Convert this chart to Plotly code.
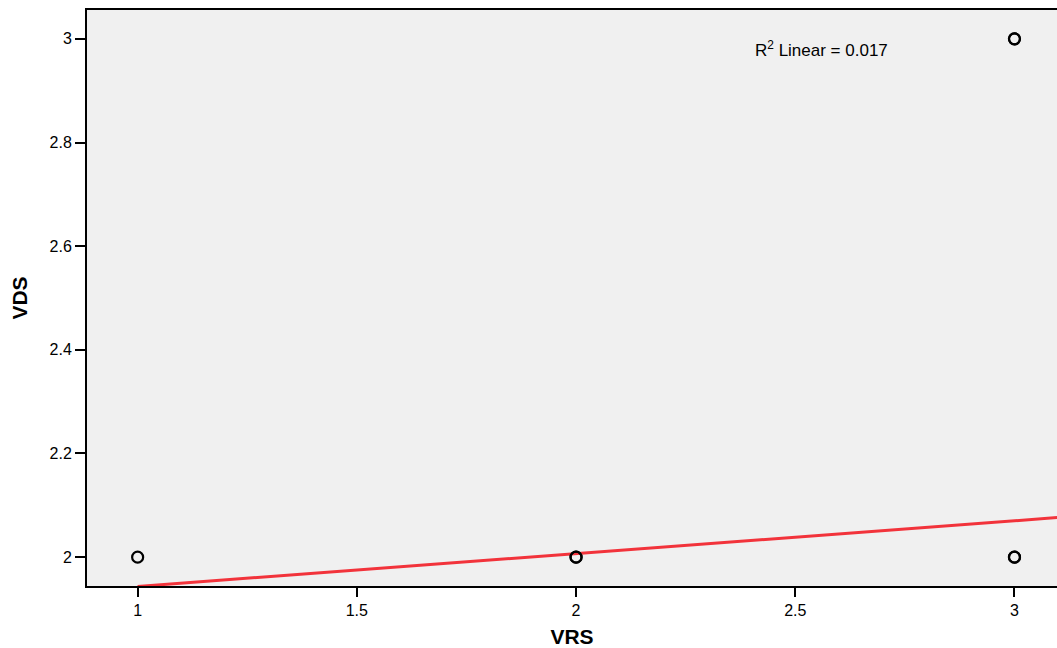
import plotly.graph_objects as go

# Data
vrs = [1, 2, 2, 3, 3, 3, 3]
vds = [2, 2, 2, 2, 2, 3, 3]
fit_intercept = 1.880
fit_slope = 0.0634
fit_x = [1.0, 3.2]
fit_y = [fit_intercept + fit_slope * x for x in fit_x]
r2_text = "R<sup>2</sup> Linear = 0.017"

x_ticks = [1, 1.5, 2, 2.5, 3]
y_ticks = [2, 2.2, 2.4, 2.6, 2.8, 3]

FONT = "Liberation Sans, Arial, sans-serif"

fig = go.Figure()
fig.add_trace(go.Scatter(
    x=fit_x, y=fit_y, mode="lines",
    line=dict(color="#F2333B", width=3),
    hoverinfo="skip", showlegend=False,
))
fig.add_trace(go.Scatter(
    x=vrs, y=vds, mode="markers",
    marker=dict(symbol="circle-open", size=11, color="black", line=dict(width=2.2, color="black")),
    showlegend=False, cliponaxis=False,
))

plot_w = 1057 - 87
plot_h = 586 - 10
fig.add_annotation(
    x=(753 - 87) / plot_w, y=1 - (49 - 10) / plot_h, xref="paper", yref="paper",
    text=r2_text, showarrow=False,
    xanchor="left", yanchor="middle", font=dict(family=FONT, size=17, color="black"),
)

fig.update_layout(
    width=1057, height=648,
    margin=dict(l=87, r=0, t=10, b=62),
    paper_bgcolor="white", plot_bgcolor="#F0F0F0",
    font=dict(family=FONT, color="black"),
    xaxis=dict(
        range=[0.8845, 3.097], tickvals=x_ticks, ticktext=["1", "1.5", "2", "2.5", "3"],
        showgrid=False, zeroline=False, showline=True, linecolor="black", linewidth=2,
        mirror=True, ticks="outside", ticklen=9, tickwidth=2, tickcolor="black",
        tickfont=dict(size=16, family=FONT),
        title=dict(text="<b>VRS</b>", font=dict(size=21, family=FONT), standoff=12),
    ),
    yaxis=dict(
        range=[1.9443, 3.0557], tickvals=y_ticks, ticktext=["2", "2.2", "2.4", "2.6", "2.8", "3"],
        showgrid=False, zeroline=False, showline=True, linecolor="black", linewidth=2,
        ticks="outside", ticklen=10, tickwidth=2, tickcolor="black",
        tickfont=dict(size=16, family=FONT),
        title=dict(text="<b>VDS</b>", font=dict(size=21, family=FONT), standoff=16),
    ),
)

fig.write_html("out.html")
